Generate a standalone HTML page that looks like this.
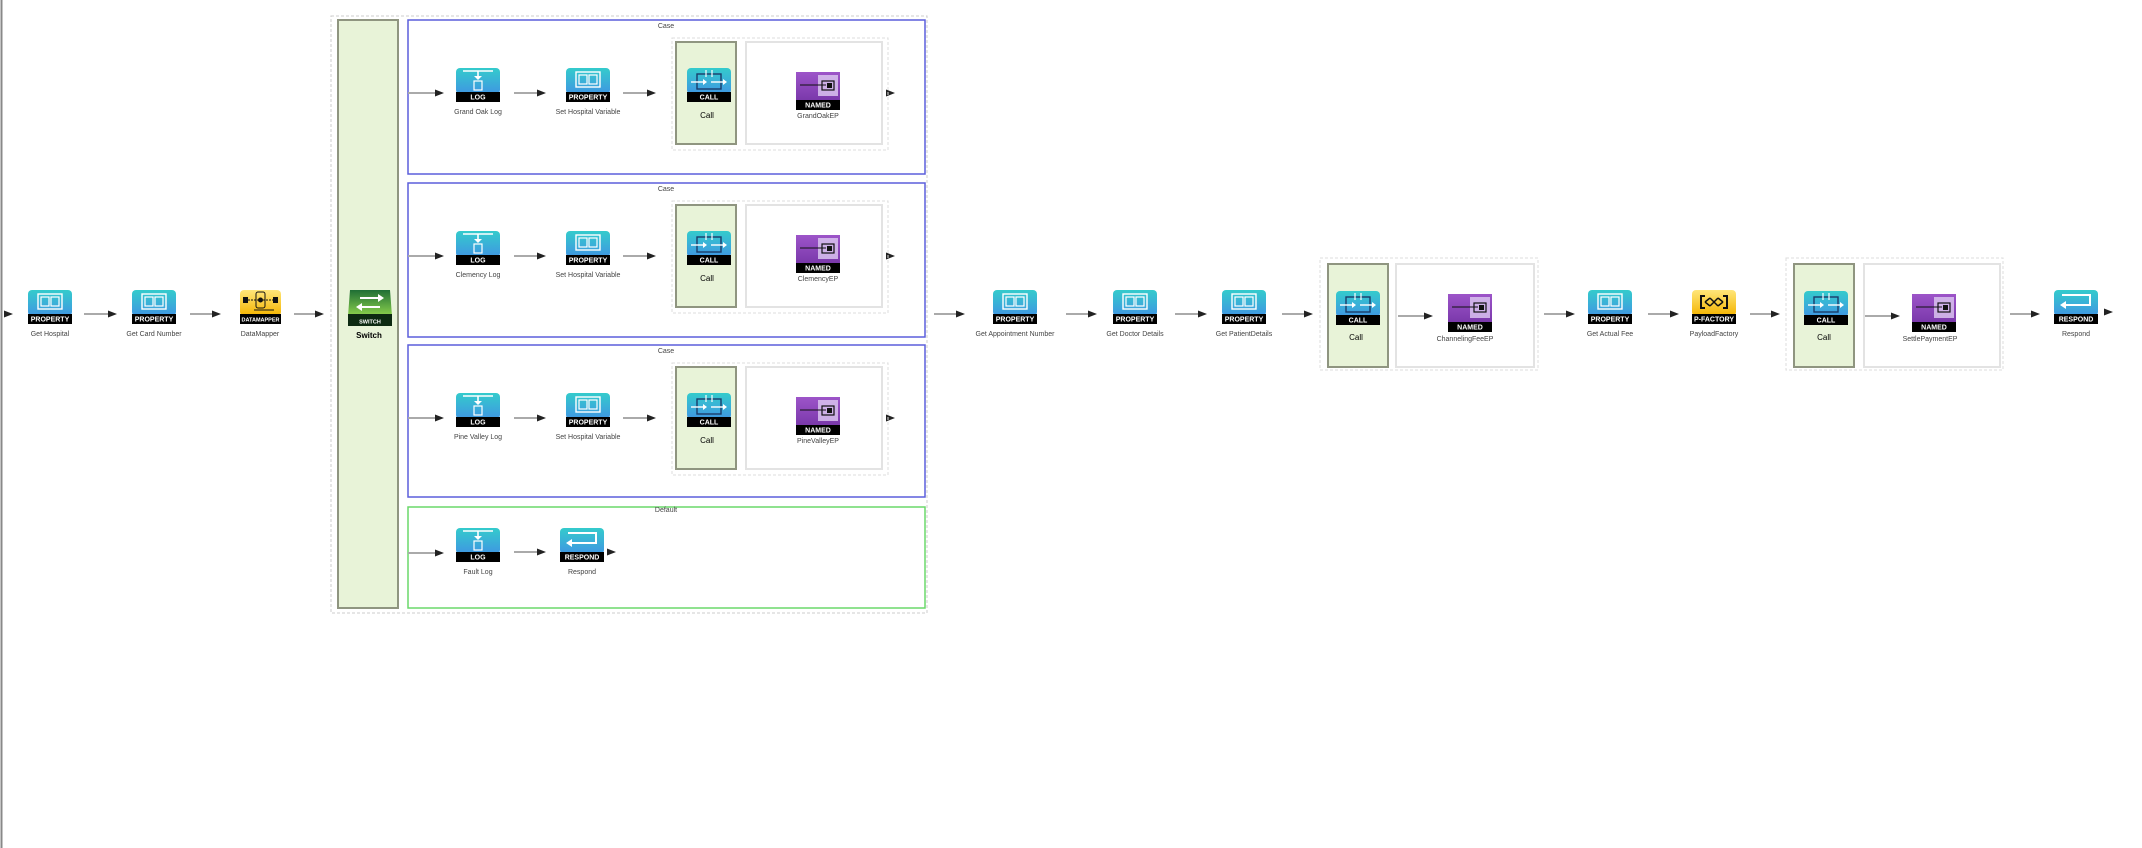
<!DOCTYPE html>
<html><head><meta charset="utf-8"><style>
html,body{margin:0;padding:0;background:#fff;width:2142px;height:848px;overflow:hidden}
svg{display:block}
.l{font-family:"Liberation Sans",sans-serif;font-size:7px;fill:#444;text-anchor:middle}
.b{font-family:"Liberation Sans",sans-serif;font-size:7px;font-weight:bold;fill:#fff;text-anchor:middle}
.c{font-family:"Liberation Sans",sans-serif;font-size:8px;font-weight:bold;fill:#000;text-anchor:middle}
</style></head><body>
<svg width="2142" height="848" viewBox="0 0 2142 848" xmlns="http://www.w3.org/2000/svg">
<defs>
<linearGradient id="teal" x1="0" y1="0" x2="0" y2="1"><stop offset="0" stop-color="#34cbcc"/><stop offset="1" stop-color="#3f96e2"/></linearGradient>
<linearGradient id="pur" x1="0" y1="0" x2="0" y2="1"><stop offset="0" stop-color="#9d55c9"/><stop offset="1" stop-color="#6e2ea0"/></linearGradient>
<linearGradient id="yel" x1="0" y1="0" x2="0" y2="1"><stop offset="0" stop-color="#ffe67a"/><stop offset="1" stop-color="#f4b400"/></linearGradient>
<linearGradient id="grn" x1="0" y1="0" x2="0" y2="1"><stop offset="0" stop-color="#1f6e35"/><stop offset="1" stop-color="#8cd24c"/></linearGradient>
<g id="prop"><rect width="44" height="26" rx="4" fill="url(#teal)"/><rect y="24" width="44" height="10" fill="#000"/><rect x="10" y="4" width="24" height="15" fill="none" stroke="#fff" stroke-width="1.4"/><rect x="13" y="7" width="8" height="9" fill="none" stroke="#fff" stroke-width="1.2"/><rect x="23" y="7" width="8" height="9" fill="none" stroke="#fff" stroke-width="1.2"/></g>
<g id="log"><rect width="44" height="26" rx="4" fill="url(#teal)"/><rect y="24" width="44" height="10" fill="#000"/><line x1="7" y1="3" x2="37" y2="3" stroke="#fff" stroke-width="1.4"/><line x1="22" y1="3" x2="22" y2="10" stroke="#fff" stroke-width="1.6"/><polygon points="18,8 26,8 22,12" fill="#fff"/><rect x="18" y="13" width="8" height="9" fill="none" stroke="#fff" stroke-width="1.2"/></g>
<g id="call"><rect width="44" height="26" rx="4" fill="url(#teal)"/><rect y="24" width="44" height="10" fill="#000"/><rect x="10" y="6" width="24" height="15" fill="none" stroke="#1b3c6a" stroke-width="1.4"/><line x1="4" y1="14" x2="18" y2="14" stroke="#fff" stroke-width="1.4"/><line x1="24" y1="14" x2="38" y2="14" stroke="#fff" stroke-width="1.4"/><polygon points="16,11 20,14 16,17" fill="#fff"/><polygon points="36,11 40,14 36,17" fill="#fff"/><line x1="19" y1="2" x2="19" y2="9" stroke="#fff" stroke-width="1.2"/><line x1="25" y1="2" x2="25" y2="9" stroke="#fff" stroke-width="1.2"/></g>
<g id="resp"><rect width="44" height="26" rx="4" fill="url(#teal)"/><rect y="24" width="44" height="10" fill="#000"/><path d="M8 5 H36 V15 H9" fill="none" stroke="#fff" stroke-width="2"/><polygon points="12,11 6,15 12,19" fill="#fff"/></g>
<g id="named"><rect width="44" height="38" fill="url(#pur)"/><rect x="0" y="28" width="44" height="10" fill="#000"/><rect x="22" y="3" width="20" height="21" fill="#d9c3ee" opacity="0.85"/><rect x="26" y="9" width="12" height="9" fill="none" stroke="#111" stroke-width="1.2"/><rect x="31" y="11" width="5" height="5" fill="#111"/><line x1="4" y1="13" x2="30" y2="13" stroke="#111" stroke-width="1"/></g>
<g id="dm"><rect width="41" height="26" rx="4" fill="url(#yel)"/><rect y="24" width="41" height="10" fill="#000"/><rect x="3" y="7" width="5" height="6" fill="#111"/><rect x="33" y="7" width="5" height="6" fill="#111"/><line x1="8" y1="10" x2="33" y2="10" stroke="#111" stroke-dasharray="2,1"/><rect x="16" y="2" width="9" height="16" rx="2" fill="none" stroke="#111"/><circle cx="20.5" cy="10" r="2.5" fill="#111"/><line x1="14" y1="20" x2="34" y2="20" stroke="#111"/></g>
<g id="pf"><rect width="44" height="26" rx="4" fill="url(#yel)"/><rect y="24" width="44" height="10" fill="#000"/><path d="M13 6 H9 V18 H13 M31 6 H35 V18 H31" fill="none" stroke="#111" stroke-width="2"/><path d="M13 12 L18 8 M13 12 L18 16 M31 12 L26 8 M31 12 L26 16 M18 8 L26 16 M18 16 L26 8" stroke="#111" stroke-width="1.5" fill="none"/></g>
<g id="sw"><path d="M2 0 H42 L44 26 H0 Z" fill="url(#grn)"/><rect y="24" width="44" height="12" fill="#0d2a12"/><line x1="12" y1="8" x2="32" y2="8" stroke="#fff" stroke-width="2"/><polygon points="30,4 36,8 30,12" fill="#fff"/><line x1="12" y1="17" x2="32" y2="17" stroke="#fff" stroke-width="2"/><polygon points="14,13 8,17 14,21" fill="#fff"/></g>
<g id="ah"><polygon points="0,-3.5 9,0 0,3.5" fill="#222"/></g>
</defs>

<line x1="1.5" y1="0" x2="1.5" y2="848" stroke="#888" stroke-width="2"/>

<!-- main row left -->
<g stroke="#aaa" stroke-width="2">
<line x1="84" y1="314" x2="110" y2="314"/><line x1="190" y1="314" x2="214" y2="314"/><line x1="294" y1="314" x2="316" y2="314"/>
<line x1="934" y1="314" x2="958" y2="314"/><line x1="1066" y1="314" x2="1090" y2="314"/><line x1="1175" y1="314" x2="1200" y2="314"/><line x1="1282" y1="314" x2="1306" y2="314"/>
<line x1="1398" y1="316" x2="1424" y2="316"/><line x1="1544" y1="314" x2="1568" y2="314"/><line x1="1648" y1="314" x2="1672" y2="314"/><line x1="1750" y1="314" x2="1772" y2="314"/>
<line x1="1864" y1="316" x2="1892" y2="316"/><line x1="2010" y1="314" x2="2032" y2="314"/>
</g>
<use href="#ah" x="4" y="314"/><use href="#ah" x="108" y="314"/><use href="#ah" x="212" y="314"/><use href="#ah" x="315" y="314"/>
<use href="#ah" x="956" y="314"/><use href="#ah" x="1088" y="314"/><use href="#ah" x="1198" y="314"/><use href="#ah" x="1304" y="314"/>
<use href="#ah" x="1424" y="316"/><use href="#ah" x="1566" y="314"/><use href="#ah" x="1670" y="314"/><use href="#ah" x="1771" y="314"/>
<use href="#ah" x="1891" y="316"/><use href="#ah" x="2031" y="314"/><use href="#ah" x="2104" y="312"/>

<use href="#prop" x="28" y="290"/><text class="b" x="50" y="321.5">PROPERTY</text><text class="l" x="50" y="336">Get Hospital</text>
<use href="#prop" x="132" y="290"/><text class="b" x="154" y="321.5">PROPERTY</text><text class="l" x="154" y="336">Get Card Number</text>
<use href="#dm" x="240" y="290"/><text class="b" x="260.5" y="321.5" style="font-size:5.5px">DATAMAPPER</text><text class="l" x="260" y="336">DataMapper</text>

<!-- switch -->
<rect x="331" y="16" width="596" height="597" fill="none" stroke="#ccc" stroke-dasharray="3,2"/>
<rect x="338" y="20" width="60" height="588" fill="#e8f3d8" stroke="#8f9580" stroke-width="2"/>
<use href="#sw" x="348" y="290"/><text class="b" x="370" y="323.5" style="font-size:5.5px">SWITCH</text><text class="c" x="369" y="338">Switch</text>

<!-- cases -->
<g id="case1">
<rect x="408" y="20" width="517" height="154" fill="#fff" stroke="#5b5fdc" stroke-width="1.5"/>
<text class="l" x="666" y="28">Case</text>
<g stroke="#aaa" stroke-width="2"><line x1="408" y1="93" x2="436" y2="93"/><line x1="514" y1="93" x2="538" y2="93"/><line x1="623" y1="93" x2="648" y2="93"/><line x1="752" y1="96" x2="778" y2="96"/></g>
<use href="#ah" x="435" y="93"/><use href="#ah" x="537" y="93"/><use href="#ah" x="647" y="93"/><use href="#ah" x="777" y="96"/><use href="#ah" x="886" y="93"/>
<use href="#log" x="456" y="68"/><text class="b" x="478" y="99.5">LOG</text><text class="l" x="478" y="114">Grand Oak Log</text>
<use href="#prop" x="566" y="68"/><text class="b" x="588" y="99.5">PROPERTY</text><text class="l" x="588" y="114">Set Hospital Variable</text>
<rect x="672" y="38" width="216" height="112" fill="none" stroke="#ddd" stroke-dasharray="3,2"/>
<rect x="676" y="42" width="60" height="102" fill="#e8f3d8" stroke="#8f9580" stroke-width="2"/>
<use href="#call" x="687" y="68"/><text class="b" x="709" y="99.5">CALL</text><text class="c" x="707" y="118" style="font-weight:normal">Call</text>
<rect x="746" y="42" width="136" height="102" fill="#fff" stroke="#e3e3e3" stroke-width="2"/>
<use href="#named" x="796" y="72"/><text class="b" x="818" y="107.5">NAMED</text><text class="l" x="818" y="118">GrandOakEP</text>
</g>
<g>
<rect x="408" y="183" width="517" height="154" fill="#fff" stroke="#5b5fdc" stroke-width="1.5"/>
<text class="l" x="666" y="191">Case</text>
<g stroke="#aaa" stroke-width="2"><line x1="408" y1="256" x2="436" y2="256"/><line x1="514" y1="256" x2="538" y2="256"/><line x1="623" y1="256" x2="648" y2="256"/><line x1="752" y1="259" x2="778" y2="259"/></g>
<use href="#ah" x="435" y="256"/><use href="#ah" x="537" y="256"/><use href="#ah" x="647" y="256"/><use href="#ah" x="777" y="259"/><use href="#ah" x="886" y="256"/>
<use href="#log" x="456" y="231"/><text class="b" x="478" y="262.5">LOG</text><text class="l" x="478" y="277">Clemency Log</text>
<use href="#prop" x="566" y="231"/><text class="b" x="588" y="262.5">PROPERTY</text><text class="l" x="588" y="277">Set Hospital Variable</text>
<rect x="672" y="201" width="216" height="112" fill="none" stroke="#ddd" stroke-dasharray="3,2"/>
<rect x="676" y="205" width="60" height="102" fill="#e8f3d8" stroke="#8f9580" stroke-width="2"/>
<use href="#call" x="687" y="231"/><text class="b" x="709" y="262.5">CALL</text><text class="c" x="707" y="281" style="font-weight:normal">Call</text>
<rect x="746" y="205" width="136" height="102" fill="#fff" stroke="#e3e3e3" stroke-width="2"/>
<use href="#named" x="796" y="235"/><text class="b" x="818" y="270.5">NAMED</text><text class="l" x="818" y="281">ClemencyEP</text>
</g>
<g>
<rect x="408" y="345" width="517" height="152" fill="#fff" stroke="#5b5fdc" stroke-width="1.5"/>
<text class="l" x="666" y="353">Case</text>
<g stroke="#aaa" stroke-width="2"><line x1="408" y1="418" x2="436" y2="418"/><line x1="514" y1="418" x2="538" y2="418"/><line x1="623" y1="418" x2="648" y2="418"/><line x1="752" y1="421" x2="778" y2="421"/></g>
<use href="#ah" x="435" y="418"/><use href="#ah" x="537" y="418"/><use href="#ah" x="647" y="418"/><use href="#ah" x="777" y="421"/><use href="#ah" x="886" y="418"/>
<use href="#log" x="456" y="393"/><text class="b" x="478" y="424.5">LOG</text><text class="l" x="478" y="439">Pine Valley Log</text>
<use href="#prop" x="566" y="393"/><text class="b" x="588" y="424.5">PROPERTY</text><text class="l" x="588" y="439">Set Hospital Variable</text>
<rect x="672" y="363" width="216" height="112" fill="none" stroke="#ddd" stroke-dasharray="3,2"/>
<rect x="676" y="367" width="60" height="102" fill="#e8f3d8" stroke="#8f9580" stroke-width="2"/>
<use href="#call" x="687" y="393"/><text class="b" x="709" y="424.5">CALL</text><text class="c" x="707" y="443" style="font-weight:normal">Call</text>
<rect x="746" y="367" width="136" height="102" fill="#fff" stroke="#e3e3e3" stroke-width="2"/>
<use href="#named" x="796" y="397"/><text class="b" x="818" y="432.5">NAMED</text><text class="l" x="818" y="443">PineValleyEP</text>
</g>
<g>
<rect x="408" y="507" width="517" height="101" fill="#fff" stroke="#6ad86a" stroke-width="1.5"/>
<text class="l" x="666" y="512">Default</text>
<g stroke="#aaa" stroke-width="2"><line x1="408" y1="553" x2="436" y2="553"/><line x1="514" y1="552" x2="538" y2="552"/></g>
<use href="#ah" x="435" y="553"/><use href="#ah" x="537" y="552"/><use href="#ah" x="607" y="552"/>
<use href="#log" x="456" y="528"/><text class="b" x="478" y="559.5">LOG</text><text class="l" x="478" y="574">Fault Log</text>
<use href="#resp" x="560" y="528"/><text class="b" x="582" y="559.5">RESPOND</text><text class="l" x="582" y="574">Respond</text>
</g>

<!-- main right -->
<use href="#prop" x="993" y="290"/><text class="b" x="1015" y="321.5">PROPERTY</text><text class="l" x="1015" y="336">Get Appointment Number</text>
<use href="#prop" x="1113" y="290"/><text class="b" x="1135" y="321.5">PROPERTY</text><text class="l" x="1135" y="336">Get Doctor Details</text>
<use href="#prop" x="1222" y="290"/><text class="b" x="1244" y="321.5">PROPERTY</text><text class="l" x="1244" y="336">Get PatientDetails</text>

<rect x="1320" y="258" width="218" height="112" fill="none" stroke="#ddd" stroke-dasharray="3,2"/>
<rect x="1328" y="264" width="60" height="103" fill="#e8f3d8" stroke="#8f9580" stroke-width="2"/>
<use href="#call" x="1336" y="291"/><text class="b" x="1358" y="322.5">CALL</text><text class="c" x="1356" y="340" style="font-weight:normal">Call</text>
<rect x="1396" y="264" width="138" height="103" fill="none" stroke="#e3e3e3" stroke-width="2"/>
<use href="#named" x="1448" y="294"/><text class="b" x="1470" y="329.5">NAMED</text><text class="l" x="1465" y="341">ChannelingFeeEP</text>

<use href="#prop" x="1588" y="290"/><text class="b" x="1610" y="321.5">PROPERTY</text><text class="l" x="1610" y="336">Get Actual Fee</text>
<use href="#pf" x="1692" y="290"/><text class="b" x="1714" y="321.5">P-FACTORY</text><text class="l" x="1714" y="336">PayloadFactory</text>

<rect x="1786" y="258" width="217" height="112" fill="none" stroke="#ddd" stroke-dasharray="3,2"/>
<rect x="1794" y="264" width="60" height="103" fill="#e8f3d8" stroke="#8f9580" stroke-width="2"/>
<use href="#call" x="1804" y="291"/><text class="b" x="1826" y="322.5">CALL</text><text class="c" x="1824" y="340" style="font-weight:normal">Call</text>
<rect x="1864" y="264" width="136" height="103" fill="none" stroke="#e3e3e3" stroke-width="2"/>
<use href="#named" x="1912" y="294"/><text class="b" x="1934" y="329.5">NAMED</text><text class="l" x="1930" y="341">SettlePaymentEP</text>

<use href="#resp" x="2054" y="290"/><text class="b" x="2076" y="321.5">RESPOND</text><text class="l" x="2076" y="336">Respond</text>
</svg>
</body></html>
